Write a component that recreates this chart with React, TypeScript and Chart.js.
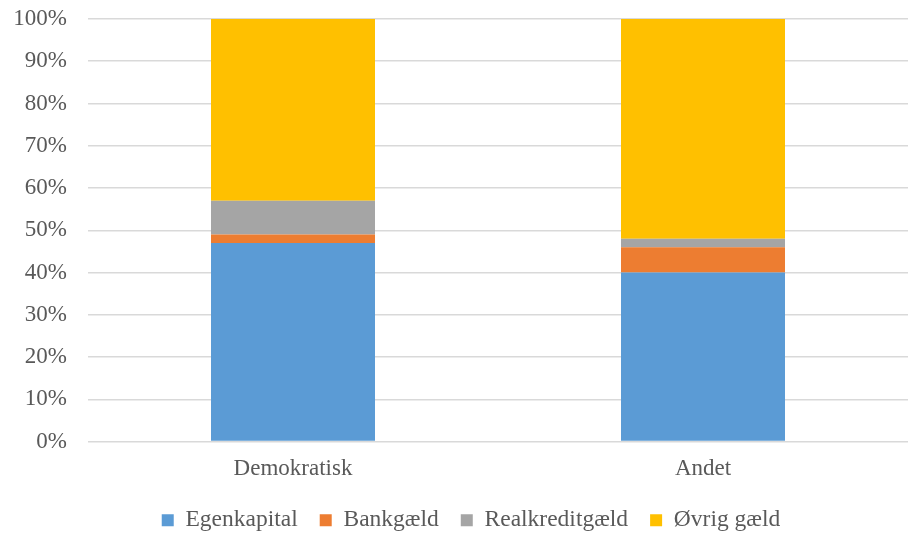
import React, { useEffect, useRef } from "react";
import { Chart, registerables } from "chart.js";

Chart.register(...registerables);

const categories = ["Demokratisk", "Andet"];
const egenkapital = [47, 40];
const bankgaeld = [2, 6];
const realkreditgaeld = [8, 2];
const oevrigGaeld = [43, 52];

const FONT = "'Liberation Serif', 'Times New Roman', serif";
const TEXT = "#595959";

// Nudges the bottom legend a little to the right of the canvas centre.
const legendOffset = {
  id: "legendOffset",
  afterLayout(chart: any) {
    const lg = chart.legend;
    if (lg) {
      lg.left += 17;
      lg.right += 17;
    }
  },
};

export default function App() {
  const ref = useRef<HTMLCanvasElement>(null);

  useEffect(() => {
    if (!ref.current) return;
    const chart = new Chart(ref.current, {
      type: "bar",
      data: {
        labels: categories,
        datasets: [
          { label: "Egenkapital", data: egenkapital, backgroundColor: "#5B9BD5" },
          { label: "Bankgæld", data: bankgaeld, backgroundColor: "#ED7D31" },
          { label: "Realkreditgæld", data: realkreditgaeld, backgroundColor: "#A5A5A5" },
          { label: "Øvrig gæld", data: oevrigGaeld, backgroundColor: "#FFC000" },
        ],
      },
      plugins: [legendOffset],
      options: {
        animation: false,
        responsive: false,
        maintainAspectRatio: false,
        layout: { padding: { top: 19, right: 0, left: 0, bottom: -8 } },
        datasets: { bar: { barPercentage: 0.4, categoryPercentage: 1 } },
        plugins: {
          tooltip: { enabled: false },
          legend: {
            position: "bottom",
            labels: {
              font: { family: FONT, size: 23.5 },
              color: TEXT,
              boxWidth: 12,
              boxHeight: 12,
              padding: 22,
            },
          },
        },
        scales: {
          x: {
            stacked: true,
            afterFit: (s: any) => {
              s.height = 45;
            },
            grid: { display: false, drawTicks: false },
            border: { display: false },
            ticks: { font: { family: FONT, size: 23 }, color: TEXT, padding: 14 },
          },
          y: {
            stacked: true,
            min: 0,
            max: 100,
            afterFit: (s: any) => {
              s.width = 88;
              s.paddingTop = 0;
              s.paddingBottom = 0;
            },
            grid: { color: "#d9d9d9", lineWidth: 1.5, drawTicks: false },
            border: { display: false },
            ticks: {
              stepSize: 10,
              padding: 21,
              font: { family: FONT, size: 23 },
              color: TEXT,
              callback: (v: any) => v + "%",
            },
          },
        },
      },
    });
    return () => chart.destroy();
  }, []);

  return (
    <div style={{ position: "absolute", left: 0, top: 0, width: 908, height: 534, background: "#fff" }}>
      <canvas ref={ref} width={908} height={534} />
    </div>
  );
}
